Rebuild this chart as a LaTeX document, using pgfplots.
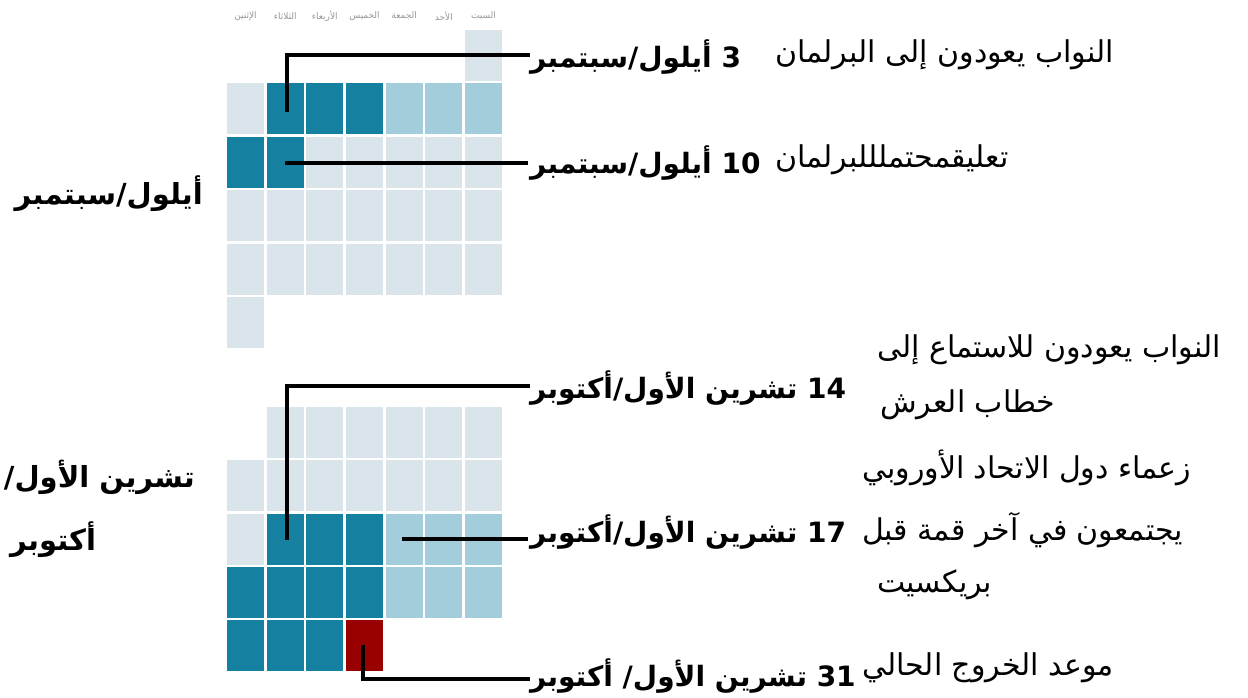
\documentclass[border=0pt]{standalone}
\usepackage{pgfplots}
\pgfplotsset{compat=1.18}
\usepackage{pgfplotstable}
\usepackage{fontspec}
\setmainfont{DejaVu Sans}
\newfontfamily\arabicfont[Script=Arabic]{DejaVu Sans}
\TeXXeTstate=1
\definecolor{cLight}{RGB}{217,229,234}
\definecolor{cMed}{RGB}{163,205,218}
\definecolor{cDark}{RGB}{21,128,160}
\definecolor{cRed}{RGB}{153,0,0}
\definecolor{cHead}{RGB}{150,150,150}
\pgfdeclareplotmark{cell}{\pgfpathrectangle{\pgfpoint{-18.5pt}{-25.5pt}}{\pgfpoint{37pt}{51pt}}\pgfusepathqfill}

% September 2019: day, column (0 = Monday), week row, class (l normal, m medium, d sitting, r deadline)
\pgfplotstableread{
day col row cls
1 6 0 l
2 0 1 l
3 1 1 d
4 2 1 d
5 3 1 d
6 4 1 m
7 5 1 m
8 6 1 m
9 0 2 d
10 1 2 d
11 2 2 l
12 3 2 l
13 4 2 l
14 5 2 l
15 6 2 l
16 0 3 l
17 1 3 l
18 2 3 l
19 3 3 l
20 4 3 l
21 5 3 l
22 6 3 l
23 0 4 l
24 1 4 l
25 2 4 l
26 3 4 l
27 4 4 l
28 5 4 l
29 6 4 l
30 0 5 l
}\sepdata

% October 2019
\pgfplotstableread{
day col row cls
1 1 0 l
2 2 0 l
3 3 0 l
4 4 0 l
5 5 0 l
6 6 0 l
7 0 1 l
8 1 1 l
9 2 1 l
10 3 1 l
11 4 1 l
12 5 1 l
13 6 1 l
14 0 2 l
15 1 2 d
16 2 2 d
17 3 2 d
18 4 2 m
19 5 2 m
20 6 2 m
21 0 3 d
22 1 3 d
23 2 3 d
24 3 3 d
25 4 3 m
26 5 3 m
27 6 3 m
28 0 4 d
29 1 4 d
30 2 4 d
31 3 4 r
}\octdata

\newcommand{\AR}[1]{{\arabicfont\beginR #1\endR}}

\begin{document}
\begin{tikzpicture}
\useasboundingbox (0,0) rectangle (1248pt,697pt);
\begin{axis}[at={(0,0)}, anchor=south west, scale only axis,
  width=1248pt, height=697pt, xmin=0, xmax=1248, ymin=0, ymax=697,
  y dir=reverse, axis lines=none, clip=false]
\addplot[scatter, only marks, scatter src=explicit symbolic,
  scatter/classes={l={mark=cell,cLight}, m={mark=cell,cMed}, d={mark=cell,cDark}, r={mark=cell,cRed}}]
  table[x expr=245.5+39.67*\thisrow{col}, y expr=55.5+53.4*\thisrow{row}, meta=cls]{\sepdata};
\addplot[scatter, only marks, scatter src=explicit symbolic,
  scatter/classes={l={mark=cell,cLight}, m={mark=cell,cMed}, d={mark=cell,cDark}, r={mark=cell,cRed}}]
  table[x expr=245.5+39.67*\thisrow{col}, y expr=432.5+53.25*\thisrow{row}, meta=cls]{\octdata};

% day headers
\begin{scope}[every node/.style={font=\fontsize{9}{10}\selectfont, text=cHead}]
\node at (axis cs:245.5,16) {\AR{الإثنين}};
\node at (axis cs:285.2,16) {\AR{الثلاثاء}};
\node at (axis cs:324.8,16) {\AR{الأربعاء}};
\node at (axis cs:364.5,16) {\AR{الخميس}};
\node at (axis cs:404.2,16) {\AR{الجمعة}};
\node at (axis cs:443.9,16) {\AR{الأحد}};
\node at (axis cs:483.5,16) {\AR{السبت}};
\end{scope}

% leader line anchor points
\coordinate (a1) at (axis cs:287,110);
\coordinate (a2) at (axis cs:287,55);
\coordinate (a3) at (axis cs:528,55);
\coordinate (b1) at (axis cs:285,163);
\coordinate (b2) at (axis cs:528,163);
\coordinate (c1) at (axis cs:287,538);
\coordinate (c2) at (axis cs:287,386);
\coordinate (c3) at (axis cs:528,386);
\coordinate (d1) at (axis cs:402,539);
\coordinate (d2) at (axis cs:528,539);
\coordinate (e1) at (axis cs:363,647);
\coordinate (e2) at (axis cs:363,679);
\coordinate (e3) at (axis cs:528,679);

% bold date labels
\begin{scope}[every node/.style={anchor=west, inner sep=0pt, font=\bfseries\fontsize{28}{32}\selectfont}]
\node at (axis cs:530,57) {\AR{3 أيلول/سبتمبر}};
\node at (axis cs:530,163) {\AR{\beginL 10\endL\ أيلول/سبتمبر}};
\node at (axis cs:530,388) {\AR{\beginL 14\endL\ تشرين الأول/أكتوبر}};
\node at (axis cs:530,532) {\AR{\beginL 17\endL\ تشرين الأول/أكتوبر}};
\node at (axis cs:530,676) {\AR{\beginL 31\endL\ تشرين الأول/ أكتوبر}};
\end{scope}

% month labels
\begin{scope}[every node/.style={inner sep=0pt, font=\bfseries\fontsize{29}{33}\selectfont}]
\node[anchor=east] at (axis cs:203,194) {\AR{أيلول/سبتمبر}};
\node[anchor=east] at (axis cs:195,477) {\AR{تشرين الأول/}};
\node[anchor=west] at (axis cs:10,540) {\AR{أكتوبر}};
\end{scope}

% event descriptions
\begin{scope}[every node/.style={anchor=west, inner sep=0pt, font=\fontsize{30}{34}\selectfont}]
\node at (axis cs:775,55) {\AR{النواب يعودون إلى البرلمان}};
\node at (axis cs:775,160) {\AR{تعليقمحتملللبرلمان}};
\node at (axis cs:877,350) {\AR{النواب يعودون للاستماع إلى}};
\node at (axis cs:880,405) {\AR{خطاب العرش}};
\node at (axis cs:862,468) {\AR{زعماء دول الاتحاد الأوروبي}};
\node at (axis cs:862,530) {\AR{يجتمعون في آخر قمة قبل}};
\node at (axis cs:877,585) {\AR{بريكسيت}};
\node at (axis cs:862,668) {\AR{موعد الخروج الحالي}};
\end{scope}
\end{axis}
\draw[line width=3.5pt, line cap=rect] (a1) -- (a2) -- (a3);
\draw[line width=3.5pt] (b1) -- (b2);
\draw[line width=3.5pt, line cap=rect] (c1) -- (c2) -- (c3);
\draw[line width=3.5pt] (d1) -- (d2);
\draw[line width=3.5pt, line cap=rect] (e1) -- (e2) -- (e3);
\end{tikzpicture}
\end{document}
